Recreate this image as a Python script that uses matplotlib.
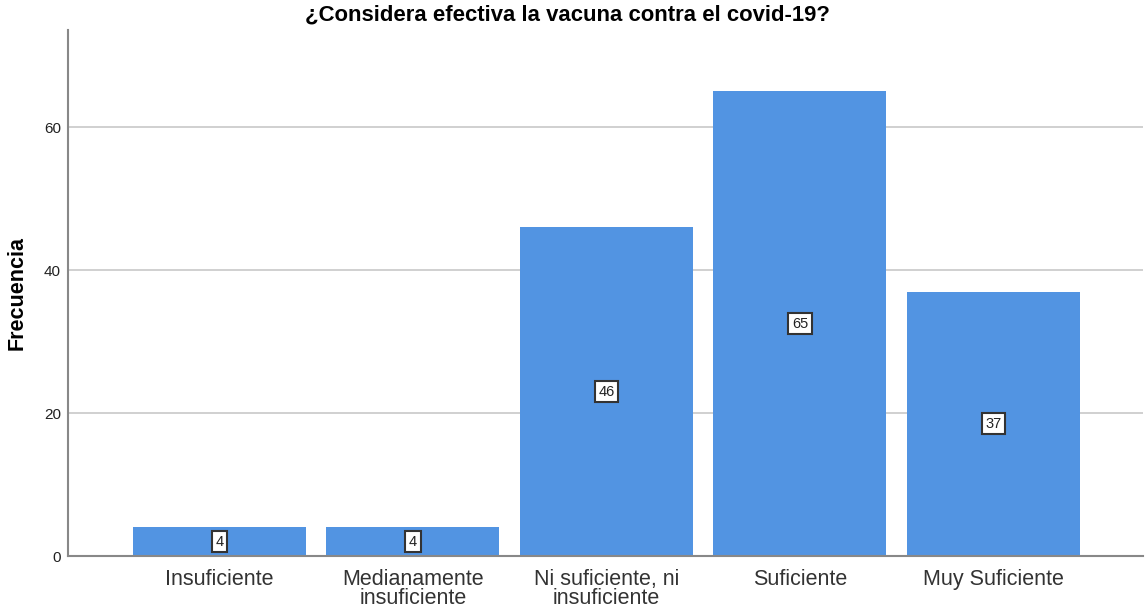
import matplotlib.pyplot as plt

categorias = ["Insuficiente", "Medianamente\ninsuficiente", "Ni suficiente, ni\ninsuficiente",
              "Suficiente", "Muy Suficiente"]
frecuencias = [4, 4, 46, 65, 37]
yticks = [0, 20, 40, 60]

plt.rcParams['font.family'] = ['Liberation Sans', 'DejaVu Sans']

fig = plt.figure(figsize=(11.46, 6.09), dpi=100)
ax = fig.add_axes([0.0593, 0.087, 0.9381, 0.8637])

x = list(range(len(categorias)))
ax.bar(x, frecuencias, width=0.894, color='#5294E2', zorder=2)

for xi, v in zip(x, frecuencias):
    ax.text(xi, v / 2, str(v), ha='center', va='center', fontsize=10.5, color='#222222',
            zorder=3, bbox=dict(boxstyle='square,pad=0.25', fc='white', ec='#333333', lw=1.5))

ax.set_xlim(-0.783, 4.773)
ax.set_ylim(0, 73.6)
ax.set_xticks(x)
ax.set_xticklabels(categorias, fontsize=15.5, color='#333333', linespacing=0.88)
ax.set_yticks(yticks)
ax.tick_params(axis='y', labelsize=11, length=0, pad=5, colors='#222222')
ax.tick_params(axis='x', length=0, pad=9)
ax.yaxis.grid(True, color='#c8c8c8', lw=1.2, zorder=0)
ax.set_axisbelow(True)

for s in ['top', 'right']:
    ax.spines[s].set_visible(False)
ax.spines['left'].set_color('#888888')
ax.spines['left'].set_linewidth(1.5)
ax.spines['bottom'].set_color('#888888')
ax.spines['bottom'].set_linewidth(1.5)

ax.set_ylabel('Frecuencia', fontsize=15.5, fontweight='bold', labelpad=12)
# titulo centrado en la figura, no en los ejes
fig.text(0.4948, 0.975, '¿Considera efectiva la vacuna contra el covid-19?', fontsize=15.9,
         fontweight='bold', ha='center', va='center')

fig.savefig('out.png', dpi=100)
